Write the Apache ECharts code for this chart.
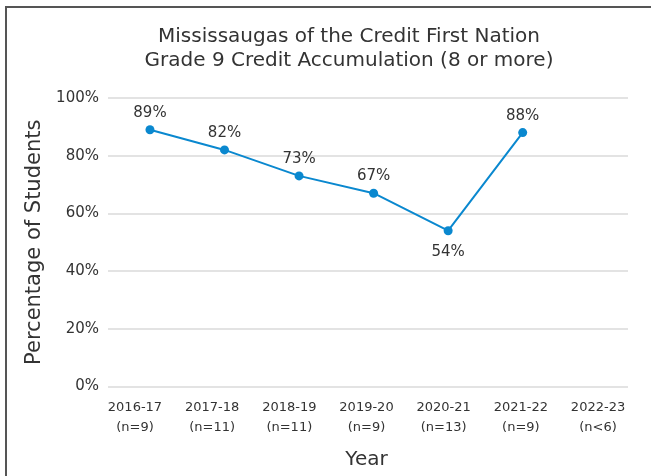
<!DOCTYPE html>
<html><head><meta charset="utf-8">
<script src="https://cdn.jsdelivr.net/npm/echarts@6/dist/echarts.min.js"></script>
<style>html,body{margin:0;padding:0;background:#fff}#c{width:651px;height:476px}</style>
</head><body><div id="c"></div>
<script>
const years = ['2016-17','2017-18','2018-19','2019-20','2020-21','2021-22','2022-23'];
const counts = ['(n=9)','(n=11)','(n=11)','(n=9)','(n=13)','(n=9)','(n<6)'];
const values = [89, 82, 73, 67, 54, 88, null];
const yTicks = [0, 20, 40, 60, 80, 100];

const categories = years.map((y, i) => y + '\n' + counts[i]);
const font = '"DejaVu Sans", sans-serif';
const txt = '#333';
const chart = echarts.init(document.getElementById('c'));
const hiddenY = (g) => ({type: 'value', gridIndex: g, min: 0, max: 100, interval: 20, show: false});
chart.setOption({
  animation: false,
  graphic: [{
    type: 'rect', shape: {x: 6, y: 7, width: 700, height: 520},
    style: {fill: 'none', stroke: '#555', lineWidth: 2}, silent: true
  }],
  title: {
    text: 'Mississaugas of the Credit First Nation\nGrade 9 Credit Accumulation (8 or more)',
    left: 344, top: 20, textAlign: 'center',
    textStyle: {fontFamily: font, fontWeight: 'normal', fontSize: 20, color: txt, lineHeight: 24}
  },
  grid: [
    {left: 108, right: 23, top: 98, bottom: 89.5},
    {left: 112.7, right: 16.5, top: 98, bottom: 89.5},
    {left: 96.4, right: 14.4, top: 98, bottom: 89.5}
  ],
  xAxis: [
    {type: 'category', gridIndex: 0, data: categories, show: false},
    {type: 'category', gridIndex: 1, data: categories, show: false},
    {
      type: 'category', gridIndex: 2, data: categories, boundaryGap: true,
      name: 'Year', nameLocation: 'middle', nameGap: 63,
      nameTextStyle: {fontFamily: font, fontSize: 20, color: txt},
      axisLine: {show: false}, axisTick: {show: false}, splitLine: {show: false},
      axisLabel: {fontFamily: font, fontSize: 13, color: txt, margin: 11, lineHeight: 20, interval: 0}
    }
  ],
  yAxis: [
    {
      type: 'value', gridIndex: 0, min: 0, max: 100, interval: 20,
      name: 'Percentage of Students', nameLocation: 'middle', nameGap: 60,
      nameTextStyle: {fontFamily: font, fontSize: 21, color: txt},
      axisLine: {show: false}, axisTick: {show: false},
      axisLabel: {fontFamily: font, fontSize: 15, color: txt, margin: 9,
        formatter: v => yTicks.includes(v) ? v + '%' : ''},
      splitLine: {lineStyle: {color: '#e3e3e3', width: 2}}
    },
    hiddenY(1), hiddenY(2)
  ],
  series: [{
    type: 'line', xAxisIndex: 1, yAxisIndex: 1,
    data: values.map((v, i) => ({
      value: v,
      label: i === 4 ? {position: 'bottom', distance: 9} : {position: 'top', distance: 5}
    })),
    symbol: 'circle', symbolSize: 9,
    lineStyle: {color: '#0a88cf', width: 2},
    itemStyle: {color: '#0a88cf'},
    label: {show: true, formatter: p => p.value + '%', fontFamily: font, fontSize: 15, color: txt}
  }]
});
</script></body></html>
